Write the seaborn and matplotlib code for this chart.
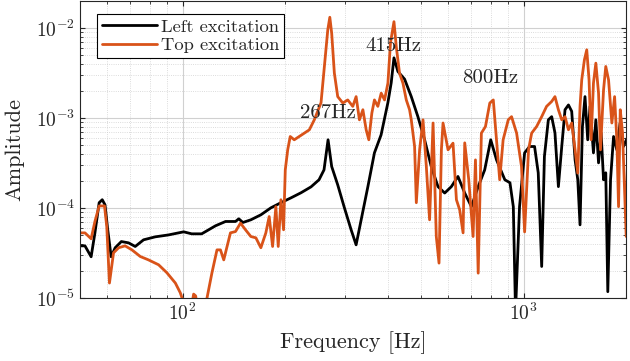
import seaborn as sns
import matplotlib.pyplot as plt
import matplotlib.ticker as mticker
import pandas as pd

# frequency [Hz] and amplitude
left_freq = [50.0, 51.7, 53.9, 55.3, 56.9, 58.1, 59.2, 60.3, 61.7, 63.4, 66.1, 69.4, 72.6, 76.8,
             83.1, 90.9, 97.3, 100.7, 106.3, 113.7, 119.2, 124.8, 133.6, 142.9, 146.1, 150.2,
             158.5, 169.6, 181.5, 194.2, 207.8, 222.4, 238, 251.2, 259.8, 267, 273.6, 285,
             297.5, 312, 322.7, 333.9, 349.4, 365.2, 382, 399.9, 409, 416.7, 428, 447.7, 468.4,
             489.8, 512.5, 536, 561, 587, 614, 642, 672, 703, 736, 769, 801, 833, 881, 912, 933,
             947, 973, 1007, 1041, 1077, 1104, 1130, 1151, 1182, 1209, 1236, 1265, 1294, 1323,
             1354, 1384, 1416, 1442, 1464, 1488, 1514, 1542, 1566, 1603, 1629, 1659, 1688, 1716,
             1742, 1766, 1799, 1836, 1877, 1919, 1963, 2023]
left_amp = [3.78e-5, 3.78e-5, 2.86e-5, 5.27e-5, 1.14e-4, 1.23e-4, 1.08e-4, 5.7e-5, 2.86e-5, 3.6e-5,
            4.22e-5, 4.08e-5, 3.72e-5, 4.41e-5, 4.76e-5, 5.0e-5, 5.27e-5, 5.41e-5, 5.14e-5, 5.14e-5,
            5.7e-5, 6.31e-5, 7.05e-5, 7.05e-5, 7.55e-5, 6.87e-5, 7.36e-5, 8.36e-5, 1.0e-4, 1.14e-4,
            1.29e-4, 1.47e-4, 1.71e-4, 2.05e-4, 2.64e-4, 5.7e-4, 2.88e-4, 1.8e-4, 1.03e-4, 5.7e-5,
            3.88e-5, 7.36e-5, 1.72e-4, 4.08e-4, 6.47e-4, 1.47e-3, 2.45e-3, 4.64e-3, 3.27e-3,
            2.69e-3, 1.72e-3, 1.03e-3, 5.7e-4, 2.88e-4, 1.72e-4, 1.46e-4, 1.72e-4, 2.23e-4, 1.46e-4,
            1.03e-4, 1.72e-4, 2.64e-4, 5.7e-4, 3.41e-4, 2.05e-4, 1.9e-4, 1.03e-4, 7e-6, 1.03e-4,
            4.08e-4, 4.8e-4, 4.8e-4, 2.45e-4, 2.23e-5, 3.72e-4, 9.5e-4, 1.03e-3, 6.81e-4, 1.72e-4,
            4.8e-4, 1.23e-3, 1.39e-3, 1.18e-3, 3.41e-4, 2.05e-4, 6.47e-5, 8e-4, 1.72e-3, 5.7e-4,
            1.34e-3, 4.08e-4, 9.5e-4, 3.16e-4, 6.81e-4, 2.05e-4, 2.45e-4, 1.17e-5, 2.05e-4, 6.2e-4,
            4.41e-4, 8.8e-4, 4.8e-4, 6.2e-4]

top_freq = [50.0, 51.7, 53.9, 55.3, 56.9, 59.0, 59.9, 61.0, 62.7, 64.9, 67.8, 71.0, 75.1, 79.4,
            85.0, 89.9, 95.2, 98.4, 100.2, 102.7, 105.6, 107.7, 109.2, 110.7, 115.3, 117.6, 121.9,
            126.1, 129.1, 132.0, 138.1, 142.9, 147.8, 152.9, 158.5, 164, 169.6, 175.4, 179.4,
            183.6, 187.7, 190.7, 194.2, 197.7, 200, 203.3, 206.8, 212.5, 219.8, 227.4, 235.3,
            243.3, 254.6, 260.4, 266.5, 270.2, 273.6, 278.6, 285, 295, 305, 315.5, 322.7, 330,
            337.8, 345.4, 351.6, 358.9, 365.2, 373.7, 382.3, 391, 400, 407, 416.7, 423.2, 432.6,
            442.7, 452.9, 463, 468.4, 479, 484.6, 495.5, 507, 518.5, 530, 542.6, 554.6, 564.9,
            574, 580.4, 600.4, 620.9, 635.3, 649.5, 664.6, 672, 690.5, 711, 722.5, 736, 752, 773,
            796, 815, 833, 851, 871, 901.6, 922, 954, 986, 1007, 1034, 1056, 1092, 1130, 1168,
            1209, 1236, 1265, 1294, 1323, 1354, 1384, 1416, 1442, 1464, 1481, 1508, 1532, 1556,
            1578, 1603, 1629, 1659, 1681, 1716, 1742, 1775, 1815, 1849, 1877, 1899, 1921, 1951,
            1978, 2000, 2023]
top_amp = [5.27e-5, 5.27e-5, 4.53e-5, 7.05e-5, 1.05e-4, 1.05e-4, 6.2e-5, 1.46e-5, 3.16e-5, 3.6e-5,
           3.78e-5, 3.41e-5, 2.88e-5, 2.64e-5, 2.33e-5, 1.9e-5, 1.46e-5, 1.14e-5, 9.3e-6, 6e-6,
           7e-6, 1.1e-5, 1.05e-5, 7e-6, 5e-6, 9.5e-6, 1.9e-5, 3.41e-5, 3.41e-5, 2.64e-5, 5.27e-5,
           5.45e-5, 6.76e-5, 5.7e-5, 4.8e-5, 4.64e-5, 3.6e-5, 5.27e-5, 8e-5, 3.72e-5, 1.03e-4,
           3.72e-5, 1.23e-4, 5.7e-5, 2.64e-4, 4.41e-4, 6.2e-4, 5.7e-4, 6.2e-4, 6.76e-4, 7.36e-4,
           9.5e-4, 1.47e-3, 3.72e-3, 9.5e-3, 1.31e-2, 8.73e-3, 3.14e-3, 1.72e-3, 1.46e-3, 1.58e-3,
           1.34e-3, 1.72e-3, 9.5e-4, 1.23e-3, 7.36e-4, 5.7e-4, 1.13e-3, 1.58e-3, 1.34e-3, 1.88e-3,
           1.58e-3, 2.43e-3, 6.81e-3, 1.17e-2, 6.2e-3, 3.14e-3, 2.43e-3, 1.58e-3, 1.23e-3, 9.5e-4,
           4.8e-4, 1.14e-4, 4.41e-4, 9.5e-4, 2.88e-4, 7.36e-5, 8.76e-4, 4.8e-5, 2.43e-5,
           4.41e-4, 8.76e-4, 4.41e-4, 5.23e-4, 1.23e-4, 9.5e-5, 5.27e-5, 5.27e-4, 2.05e-4, 4.8e-5,
           3.41e-4, 1.88e-5, 6.76e-4, 8e-4, 1.46e-3, 1.58e-3, 5.7e-4, 2.05e-4, 5.7e-4, 9.5e-4,
           1.03e-3, 6.76e-4, 2.88e-4, 5.4e-5, 4.41e-4, 6.76e-4, 8e-4, 1.03e-3, 1.34e-3,
           1.52e-3, 1.72e-3, 1.23e-3, 9.5e-4, 1.03e-3, 7.36e-4, 8.76e-4, 4.41e-4, 2.43e-4,
           1.34e-3, 2.64e-3, 4.41e-3, 5.7e-3, 2.64e-3, 5.7e-4, 2.43e-3, 4.05e-3, 1.88e-3,
           4.41e-4, 2.04e-3, 3.72e-3, 2.64e-3, 8.76e-4, 1.72e-3, 5.7e-4, 1.03e-4, 1.23e-3,
           6.76e-4, 1.58e-4, 4.8e-5, 5.7e-4]

peak_labels = ["267Hz", "415Hz", "800Hz"]
peak_freq = [267, 415, 800]
peak_text_amp = [1.14e-3, 6.2e-3, 2.78e-3]

sns.set_style("ticks")
plt.rcParams['font.family'] = ['cmr10']
plt.rcParams['mathtext.fontset'] = 'cm'
plt.rcParams['axes.formatter.use_mathtext'] = True

df_left = pd.DataFrame({'freq': left_freq, 'amp': left_amp})
df_top = pd.DataFrame({'freq': top_freq, 'amp': top_amp})

fig = plt.figure(figsize=(6.3, 3.61), dpi=100)
ax = fig.add_axes([0.127, 0.175, 0.867, 0.823])

sns.lineplot(x='freq', y='amp', data=df_left, ax=ax, color='black', lw=2,
             sort=False, estimator=None, label='Left excitation')
sns.lineplot(x='freq', y='amp', data=df_top, ax=ax, color='#D95319', lw=2,
             sort=False, estimator=None, label='Top excitation')

for lab, f, a in zip(peak_labels, peak_freq, peak_text_amp):
    ax.text(f, a, lab, ha='center', va='center', fontsize=15)

ax.set_xscale('log')
ax.set_yscale('log')
ax.set_xlim(50, 2000)
ax.set_ylim(1e-5, 2e-2)
ax.xaxis.set_minor_formatter(mticker.NullFormatter())
ax.yaxis.set_minor_formatter(mticker.NullFormatter())
ax.tick_params(which='both', direction='in', top=True, right=True, labelsize=14)
ax.grid(which='major', color='#d0d0d0', lw=0.8)
ax.grid(which='minor', color='#d0d0d0', lw=0.6, ls=':')
for s in ax.spines.values():
    s.set_linewidth(0.8)

ax.set_xlabel('Frequency [Hz]', fontsize=16, labelpad=5)
ax.set_ylabel('Amplitude', fontsize=16, labelpad=8)
leg = ax.legend(loc='upper left', fontsize=13.3, fancybox=False, framealpha=1,
                edgecolor='black', handlelength=3.0, borderpad=0.25, labelspacing=0.15,
                handletextpad=0.2, borderaxespad=0, bbox_to_anchor=(0.031, 0.955))
leg.get_frame().set_linewidth(0.8)

plt.savefig('out.png', dpi=100)
